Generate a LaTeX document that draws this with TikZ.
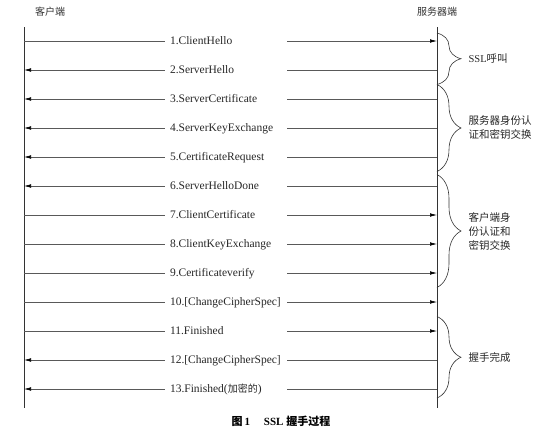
\documentclass[tikz,border=0pt]{standalone}
\usepackage{fontspec}
\setmainfont{Liberation Serif}
\newfontfamily\cjk{Noto Sans CJK SC}
\usetikzlibrary{arrows.meta,decorations.pathreplacing}
\tikzset{
    msg/.style={draw=black!65, line width=0.6pt},
    tosrv/.style={-{Latex[length=7pt,width=3.6pt,color=black]}},
    tocli/.style={{Latex[length=7pt,width=3.6pt,color=black]}-},
    noarr/.style={-},
    lbl/.style={text width=112pt, inner xsep=5pt, inner ysep=0pt, text height=7.5pt, text depth=0pt,
        align=left, text=black!85, font=\fontsize{11.5}{13}\selectfont},
    brc/.style={decorate, decoration={brace, amplitude=24pt}, line width=0.6pt, draw=black!80},
    brclbl/.style={right=28pt, align=left, text=black!85, font=\cjk\fontsize{10.5}{14}\selectfont},
}
\begin{document}
\begin{tikzpicture}[x=1pt, y=-1pt]
    \useasboundingbox (0,0) rectangle (542,432);
    % the two ends
    \node[font=\cjk\fontsize{10}{12}\selectfont, text=black!80] (client) at (50,12) {客户端};
    \node[font=\cjk\fontsize{10}{12}\selectfont, text=black!80] (server) at (437,12) {服务器端};
    \coordinate (cl) at (24,27);
    \coordinate (clb) at (24,408);
    \coordinate (sv) at (437,27);
    \coordinate (svb) at (437,408);
    \draw[line width=0.7pt, black!80] (cl) -- (clb);
    \draw[line width=0.7pt, black!80] (sv) -- (svb);
    % messages
    \foreach \i/\txt/\la/\ra in {1/ClientHello/noarr/tosrv, 2/ServerHello/tocli/noarr,
        3/ServerCertificate/tocli/noarr, 4/ServerKeyExchange/tocli/noarr,
        5/CertificateRequest/tocli/noarr, 6/ServerHelloDone/tocli/noarr,
        7/ClientCertificate/noarr/tosrv, 8/ClientKeyExchange/noarr/tosrv,
        9/Certificateverify/noarr/tosrv, 10/{[ChangeCipherSpec]}/noarr/tosrv,
        11/Finished/noarr/tosrv, 12/{[ChangeCipherSpec]}/tocli/noarr,
        13/{Finished({\cjk\fontsize{10}{12}\selectfont 加密的})}/tocli/noarr}{
        \node[lbl] (m\i) at (226,{41+29*(\i-1)}) {\i.\txt};
        \coordinate (c\i) at (cl |- m\i);
        \coordinate (s\i) at (sv |- m\i);
        \draw[msg,\la] (c\i) -- (m\i.west);
        \draw[msg,\ra] (m\i.east) -- (s\i);
    }
    % the phases
    \coordinate (b1t) at (437,33);
    \coordinate (b1b) at (437,84.5);
    \coordinate (b2t) at (437,84.5);
    \coordinate (b2b) at (437,171.5);
    \coordinate (b3t) at (437,174.5);
    \coordinate (b3b) at (437,287.5);
    \coordinate (b4t) at (437,316.5);
    \coordinate (b4b) at (437,398);
    \draw[brc] (b1t) -- (b1b) node[brclbl, midway] (p1) {{\rmfamily SSL}呼叫};
    \draw[brc] (b2t) -- (b2b) node[brclbl, midway] (p2) {服务器身份认\\证和密钥交换};
    \draw[brc] (b3t) -- (b3b) node[brclbl, midway] (p3) {客户端身\\份认证和\\密钥交换};
    \draw[brc] (b4t) -- (b4b) node[brclbl, midway] (p4) {握手完成};
    % caption
    \node[font=\bfseries\fontsize{11}{13}\selectfont] (cap) at (281,421)
        {{\cjk 图}\,1\hspace{14pt}SSL {\cjk 握手过程}};
\end{tikzpicture}
\end{document}
